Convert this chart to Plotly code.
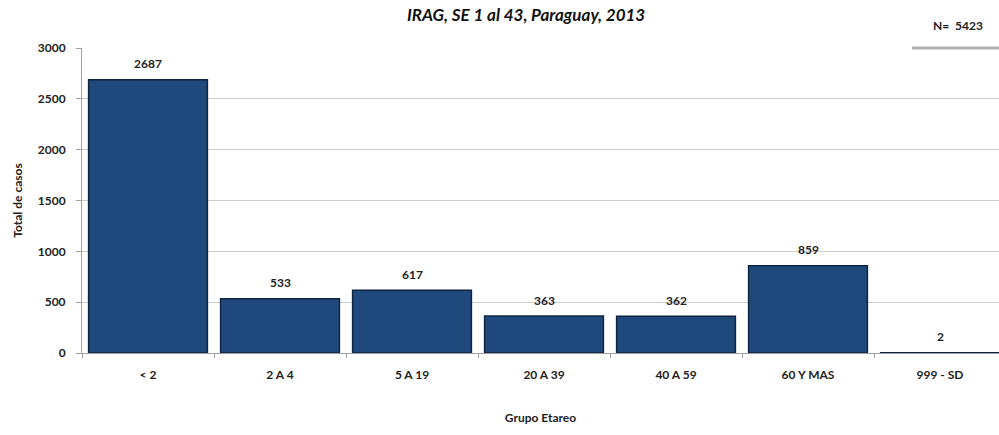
import plotly.graph_objects as go

categories = ["< 2", "2 A 4", "5 A 19", "20 A 39", "40 A 59", "60 Y MAS", "999 - SD"]
values = [2687, 533, 617, 363, 362, 859, 2]
y_ticks = [0, 500, 1000, 1500, 2000, 2500, 3000]
total_n = 5423

FONT = "Lato"
fig = go.Figure()
fig.add_trace(go.Bar(
    x=categories, y=values,
    marker=dict(color="#1F497D", line=dict(color="#10243F", width=1.5)),
    width=0.9,
    hoverinfo="x+y",
))
for c, v in zip(categories, values):
    fig.add_annotation(x=c, y=v, text=f"<b>{v}</b>", showarrow=False,
                       yshift=16, font=dict(family=FONT, size=12, color="#222"))

fig.add_annotation(xref="paper", yref="paper", x=0.484, y=1.0, yshift=46,
                   text="<b><i>IRAG, SE 1 al 43, Paraguay, 2013</i></b>",
                   showarrow=False, font=dict(family=FONT, size=17, color="#111"))
fig.add_annotation(xref="paper", yref="paper", x=0.985, y=1.0, yshift=32,
                   text=f"<b>N=  {total_n}</b>", showarrow=False,
                   font=dict(family=FONT, size=12, color="#222"))
fig.add_shape(type="line", xref="paper", yref="paper", x0=0.905, x1=1.0, y0=1.0, y1=1.0,
              line=dict(color="#B0B0B0", width=3))

fig.update_layout(
    width=999, height=435,
    margin=dict(l=82, r=0, t=48, b=82),
    paper_bgcolor="white", plot_bgcolor="white",
    showlegend=False,
    font=dict(family=FONT, size=12, color="#222"),
    xaxis=dict(
        range=[-0.5, 6.447],
        showline=True, linecolor="#A0A0A0", linewidth=1,
        ticks="outside", ticklen=4, tickcolor="#A0A0A0",
        tickson="boundaries",
        ticklabelstandoff=11,
        tickfont=dict(family=FONT, size=12, color="#222", weight="bold"),
        title=dict(text="<b>Grupo Etareo</b>", standoff=32,
                   font=dict(family=FONT, size=12, color="#222")),
    ),
    yaxis=dict(
        range=[0, 3000], tickvals=y_ticks,
        showline=True, linecolor="#A0A0A0", linewidth=1,
        ticks="outside", ticklen=5, tickcolor="#A0A0A0",
        ticklabelstandoff=8,
        showgrid=True, gridcolor="#D0D0D0", gridwidth=1,
        zeroline=False,
        tickfont=dict(family=FONT, size=12, color="#222", weight="bold"),
        title=dict(text="<b>Total de casos</b>", standoff=12,
                   font=dict(family=FONT, size=12, color="#222")),
    ),
)
fig.write_html("out.html")
